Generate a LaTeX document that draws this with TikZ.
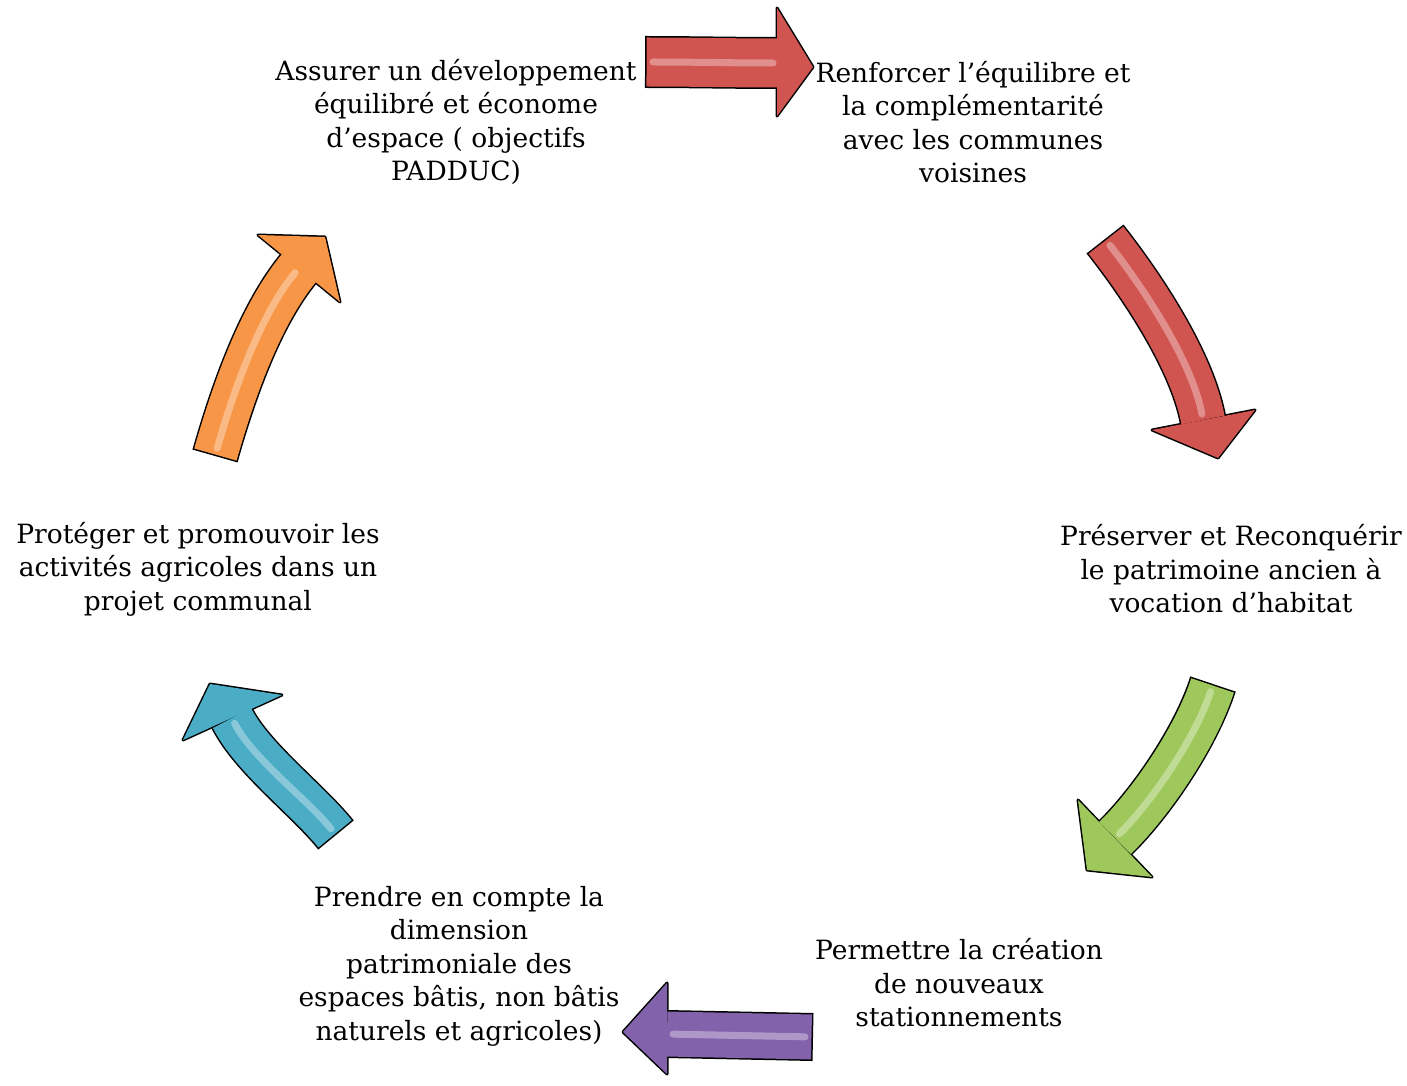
\documentclass[tikz,border=0pt]{standalone}
\usepackage{fontspec}
\setmainfont{DejaVu Serif}
\definecolor{arred}{RGB}{208,84,80}
\definecolor{argreen}{RGB}{158,200,92}
\definecolor{arpurple}{RGB}{130,98,170}
\definecolor{arblue}{RGB}{75,172,198}
\definecolor{arorange}{RGB}{247,150,70}
\newcommand\barrowshape[9]{%
  \filldraw[black, line width=3pt, line join=round] (#7) -- (#8) -- (#9) -- cycle;
  \draw[black, line width=#2+3pt] (#3) .. controls (#4) and (#5) .. (#6);
  \fill[#1] (#7) -- (#8) -- (#9) -- cycle;
  \draw[#1, line width=#2, shorten <=1.5pt] (#3) .. controls (#4) and (#5) .. (#6);
  \draw[white, opacity=.35, line width=7pt, line cap=round, shorten <=8pt, shorten >=6pt] (#3) .. controls (#4) and (#5) .. (#6);
}
\begin{document}
\begin{tikzpicture}[x=1pt,y=-1pt,
  lbl/.style={align=center, inner sep=0pt, font=\fontsize{26.5}{33.5}\selectfont}]
\useasboundingbox (0,0) rectangle (1407,1086);
% text blocks
\node[lbl] (A) at (456,122) {Assurer un développement\\équilibré et économe\\d’espace ( objectifs\\PADDUC)};
\node[lbl] (B) at (973,122) {Renforcer l’équilibre et\\la complémentarité\\avec les communes\\voisines};
\node[lbl] (C) at (1231,569) {Préserver et Reconquérir\\le patrimoine ancien à\\vocation d’habitat};
\node[lbl] (D) at (959,983) {Permettre la création\\de nouveaux\\stationnements};
\node[lbl] (E) at (459,966) {Prendre en compte la\\dimension\\patrimoniale des\\espaces bâtis, non bâtis\\naturels et agricoles)};
\node[lbl] (F) at (198,569) {Protéger et promouvoir les\\activités agricoles dans un\\projet communal};
% arrow 1: A -> B
\coordinate (a1s) at (645,62); \coordinate (a1c1) at (690,62); \coordinate (a1c2) at (735,63); \coordinate (a1e) at (779,63);
\coordinate (a1b1) at (777,8); \coordinate (a1t) at (813,67); \coordinate (a1b2) at (777,116);
\barrowshape{arred}{49pt}{a1s}{a1c1}{a1c2}{a1e}{a1b1}{a1t}{a1b2}
% arrow 2: B -> C
\coordinate (a2s) at (1105,239); \coordinate (a2c1) at (1142,286); \coordinate (a2c2) at (1192,361); \coordinate (a2e) at (1203,420);
\coordinate (a2b1) at (1152,430); \coordinate (a2t) at (1218,458); \coordinate (a2b2) at (1255,410);
\barrowshape{arred}{44pt}{a2s}{a2c1}{a2c2}{a2e}{a2b1}{a2t}{a2b2}
% arrow 3: C -> D
\coordinate (a3s) at (1213,684); \coordinate (a3c1) at (1196,737); \coordinate (a3c2) at (1151,803); \coordinate (a3e) at (1115,838);
\coordinate (a3b1) at (1078,800); \coordinate (a3t) at (1087,870); \coordinate (a3b2) at (1152,877);
\barrowshape{argreen}{45pt}{a3s}{a3c1}{a3c2}{a3e}{a3b1}{a3t}{a3b2}
% arrow 4: D -> E
\coordinate (a4s) at (813,1037); \coordinate (a4c1) at (765,1036); \coordinate (a4c2) at (715,1035); \coordinate (a4e) at (667,1034);
\coordinate (a4b1) at (667,983); \coordinate (a4t) at (623,1032); \coordinate (a4b2) at (667,1074);
\barrowshape{arpurple}{45pt}{a4s}{a4c1}{a4c2}{a4e}{a4b1}{a4t}{a4b2}
% arrow 5: E -> F
\coordinate (a5s) at (336,835); \coordinate (a5c1) at (308,800); \coordinate (a5c2) at (252,758); \coordinate (a5e) at (232,718);
\coordinate (a5b1) at (282,695); \coordinate (a5t) at (210,684); \coordinate (a5b2) at (183,740);
\barrowshape{arblue}{43pt}{a5s}{a5c1}{a5c2}{a5e}{a5b1}{a5t}{a5b2}
% arrow 6: F -> A
\coordinate (a6s) at (215,456); \coordinate (a6c1) at (234,389); \coordinate (a6c2) at (261,314); \coordinate (a6e) at (299,268);
\coordinate (a6b1) at (258,235); \coordinate (a6t) at (325,237); \coordinate (a6b2) at (340,302);
\barrowshape{arorange}{44pt}{a6s}{a6c1}{a6c2}{a6e}{a6b1}{a6t}{a6b2}
\end{tikzpicture}
\end{document}
